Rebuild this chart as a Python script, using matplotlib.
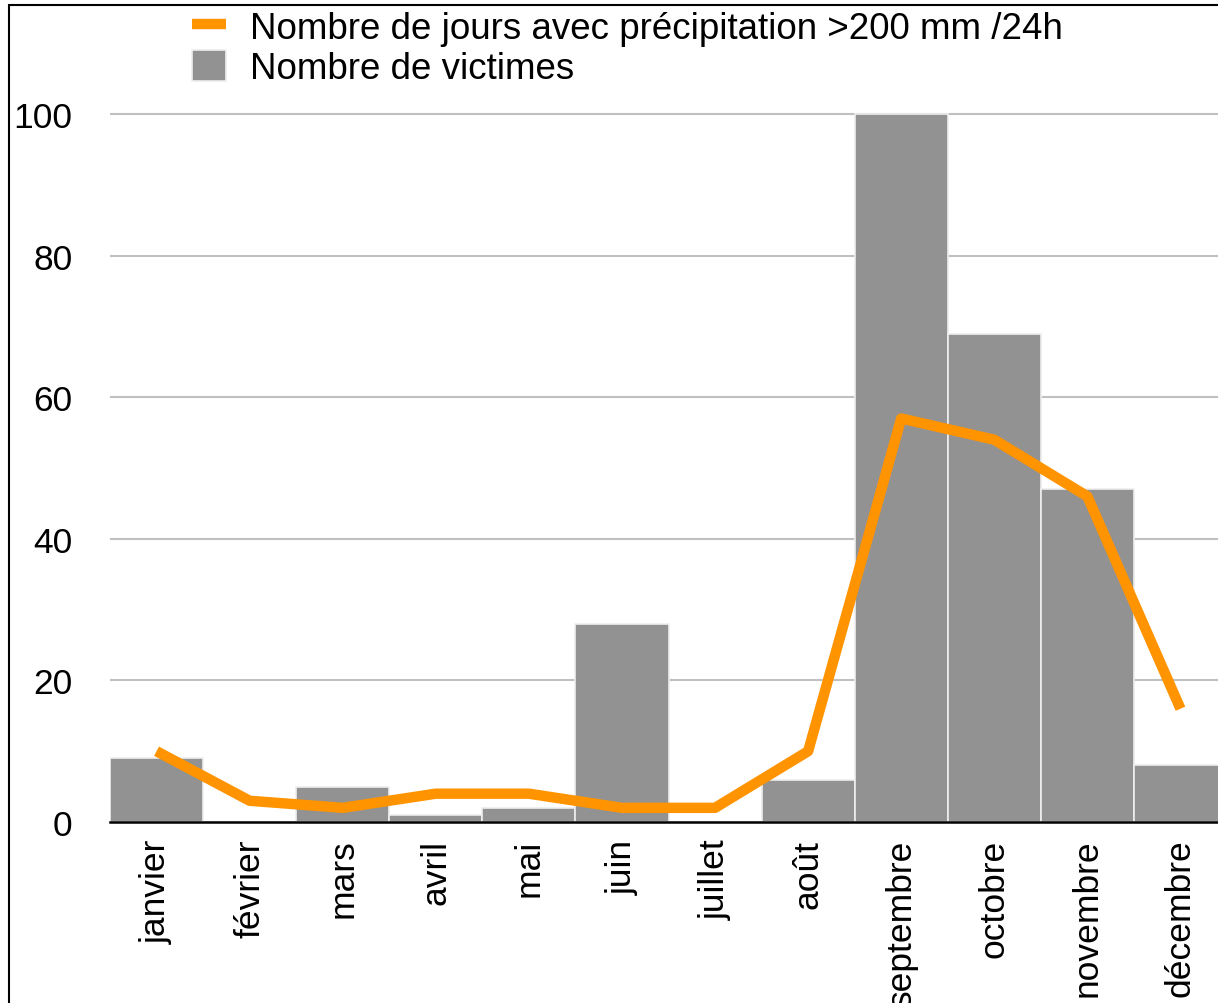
import numpy as np
import matplotlib.pyplot as plt
from matplotlib.patches import Rectangle

plt.rcParams['font.family'] = ['Liberation Sans', 'DejaVu Sans']

mois = ['janvier', 'février', 'mars', 'avril', 'mai', 'juin', 'juillet',
        'août', 'septembre', 'octobre', 'novembre', 'décembre']
victimes = [9, 0, 5, 1, 2, 28, 0, 6, 100, 69, 47, 8]
jours_pluie = [10, 3, 2, 4, 4, 2, 2, 10, 57, 54, 46, 16]

W, H = 1218, 1004
fs = 25.5
fig = plt.figure(figsize=(W / 100, H / 100), dpi=100)
# axe un peu plus large que l'image : décembre est coupé à droite
ax = fig.add_axes([110 / W, 181 / H, 1117 / W, 715 / H])

x = np.arange(len(mois))
barres = ax.bar(x, victimes, width=1.0, color='#929292', edgecolor='#eeeeee',
                linewidth=1.2, zorder=2, label='Nombre de victimes')
ligne, = ax.plot(x, jours_pluie, color='#ff9300', lw=7.5, zorder=3,
                 solid_capstyle='butt',
                 label='Nombre de jours avec précipitation >200 mm /24h')

ax.set_xlim(-0.5, 11.5)
ax.set_ylim(0, 101)
ax.set_yticks([0, 20, 40, 60, 80, 100])
ax.yaxis.grid(True, color='#c0c0c0', lw=1.5, zorder=0)
ax.set_axisbelow(True)
for s in ['top', 'right', 'left']:
    ax.spines[s].set_visible(False)
ax.spines['bottom'].set_linewidth(1.8)
ax.spines['bottom'].set_zorder(4)

ax.set_xticks(x)
ax.set_xticklabels(mois, rotation=90, fontsize=fs)
ax.tick_params(axis='x', length=0, pad=12)
ax.tick_params(axis='y', length=0, pad=27, labelsize=fs)

fig.legend(handles=[ligne, barres], loc='upper left',
           bbox_to_anchor=(192 / W, 1 - 11 / H), frameon=False, fontsize=26.5,
           handlelength=0.93, handleheight=0.9, handletextpad=0.64,
           labelspacing=0.12, borderpad=0, borderaxespad=0)

fig.add_artist(Rectangle((9 / W, -0.1), 2, 1.1 - 6 / H, fill=False,
                         lw=1.5, edgecolor='black', transform=fig.transFigure))

fig.savefig('out.png', dpi=100)
